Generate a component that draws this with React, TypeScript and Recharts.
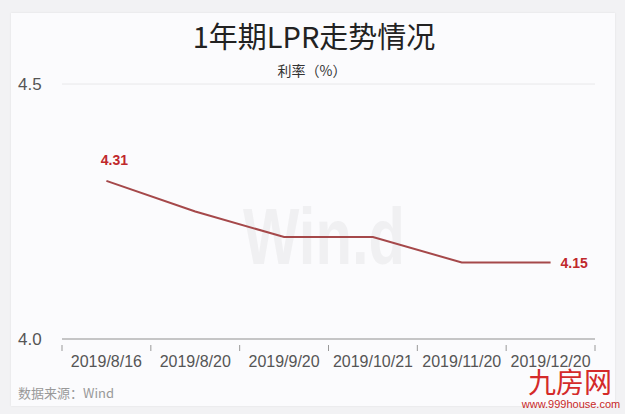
import React from 'react';
import { LineChart, Line, XAxis, YAxis, CartesianGrid, LabelList } from 'recharts';

// 1-year LPR fixings
const dates = ['2019/8/16', '2019/8/20', '2019/9/20', '2019/10/21', '2019/11/20', '2019/12/20'];
const lprValues = [4.31, 4.25, 4.2, 4.2, 4.15, 4.15];
const yTicks = [4.0, 4.5];

const data = dates.map((date, i) => ({ date, lpr: lprValues[i] }));

const FONT = '"Liberation Sans", Arial, sans-serif';
const CJK = '"Noto Sans CJK SC", sans-serif';

const YTick = (props: any) => {
  const { y, payload } = props;
  return (
    <text x={18} y={y} dy={6} textAnchor="start" fontSize={17} fill="#555" fontFamily={FONT}>
      {Number(payload.value).toFixed(1)}
    </text>
  );
};

const XTick = (props: any) => {
  const { x, y, payload, index, visibleTicksCount } = props;
  const half = (595 - 62) / dates.length / 2;
  const count = visibleTicksCount ?? dates.length;
  return (
    <g>
      <line x1={x - half} x2={x - half} y1={y - 8} y2={y - 2} stroke="#999" />
      {index === count - 1 && <line x1={x + half} x2={x + half} y1={y - 8} y2={y - 2} stroke="#999" />}
      <text x={x} y={y} dy={14} textAnchor="middle" fontSize={16} fill="#555" fontFamily={FONT}>
        {payload.value}
      </text>
    </g>
  );
};

const PointLabel = (props: any) => {
  const { x, y, value, index } = props;
  if (index === 0) {
    return (
      <text x={x + 8} y={y - 16} textAnchor="middle" fontSize={14} fontWeight="bold" fill="#c0282c" fontFamily={FONT}>
        {Number(value).toFixed(2)}
      </text>
    );
  }
  if (index === dates.length - 1) {
    return (
      <text x={x + 10} y={y} dy={5} textAnchor="start" fontSize={14} fontWeight="bold" fill="#c0282c" fontFamily={FONT}>
        {Number(value).toFixed(2)}
      </text>
    );
  }
  return null;
};

export default function App() {
  return (
    <div style={{ position: 'absolute', left: 0, top: 0, width: 625, height: 414, background: '#f2f2f4' }}>
      <div
        style={{
          position: 'absolute',
          left: 11,
          top: 13,
          width: 604,
          height: 393,
          background: '#fbfbfd',
          boxShadow: '0 0 2px rgba(0,0,0,0.08)',
        }}
      />
      <div style={{ position: 'absolute', left: 0, top: 0 }}>
        <LineChart width={625} height={414} data={data} margin={{ top: 84, right: 30, bottom: 45, left: 0 }}>
          <text
            x={243}
            y={264}
            fontSize={80}
            fontWeight="bold"
            fill="#f0f0f2"
            fontFamily={FONT}
            textLength={162}
            lengthAdjust="spacingAndGlyphs"
          >
            Win.d
          </text>
          <text x={314} y={48} textAnchor="middle" fontSize={29} fill="#222" fontFamily={CJK}>
            1年期LPR走势情况
          </text>
          <text x={312} y={76} textAnchor="middle" fontSize={14} fill="#333" fontFamily={CJK}>
            利率（%）
          </text>
          <text x={18} y={398} fontSize={13} fill="#999" fontFamily={CJK}>
            数据来源：Wind
          </text>
          <CartesianGrid vertical={false} stroke="#e8e8ea" />
          <XAxis
            dataKey="date"
            scale="band"
            height={30}
            axisLine={{ stroke: '#999' }}
            tickLine={false}
            tick={<XTick />}
            interval={0}
            tickMargin={8}
          />
          <YAxis
            width={62}
            domain={[4.0, 4.5]}
            ticks={yTicks}
            axisLine={false}
            tickLine={false}
            tick={<YTick />}
          />
          <Line
            type="linear"
            dataKey="lpr"
            stroke="#a5484a"
            strokeWidth={2}
            dot={false}
            isAnimationActive={false}
          >
            <LabelList dataKey="lpr" content={<PointLabel />} />
          </Line>
          <text x={570} y={393} textAnchor="middle" fontSize={28} fill="#d42a2a" fontFamily={CJK}>
            九房网
          </text>
          <text x={571} y={408} textAnchor="middle" fontSize={11} fill="#c82828" fontFamily={FONT}>
            www.999house.com
          </text>
        </LineChart>
      </div>
    </div>
  );
}
